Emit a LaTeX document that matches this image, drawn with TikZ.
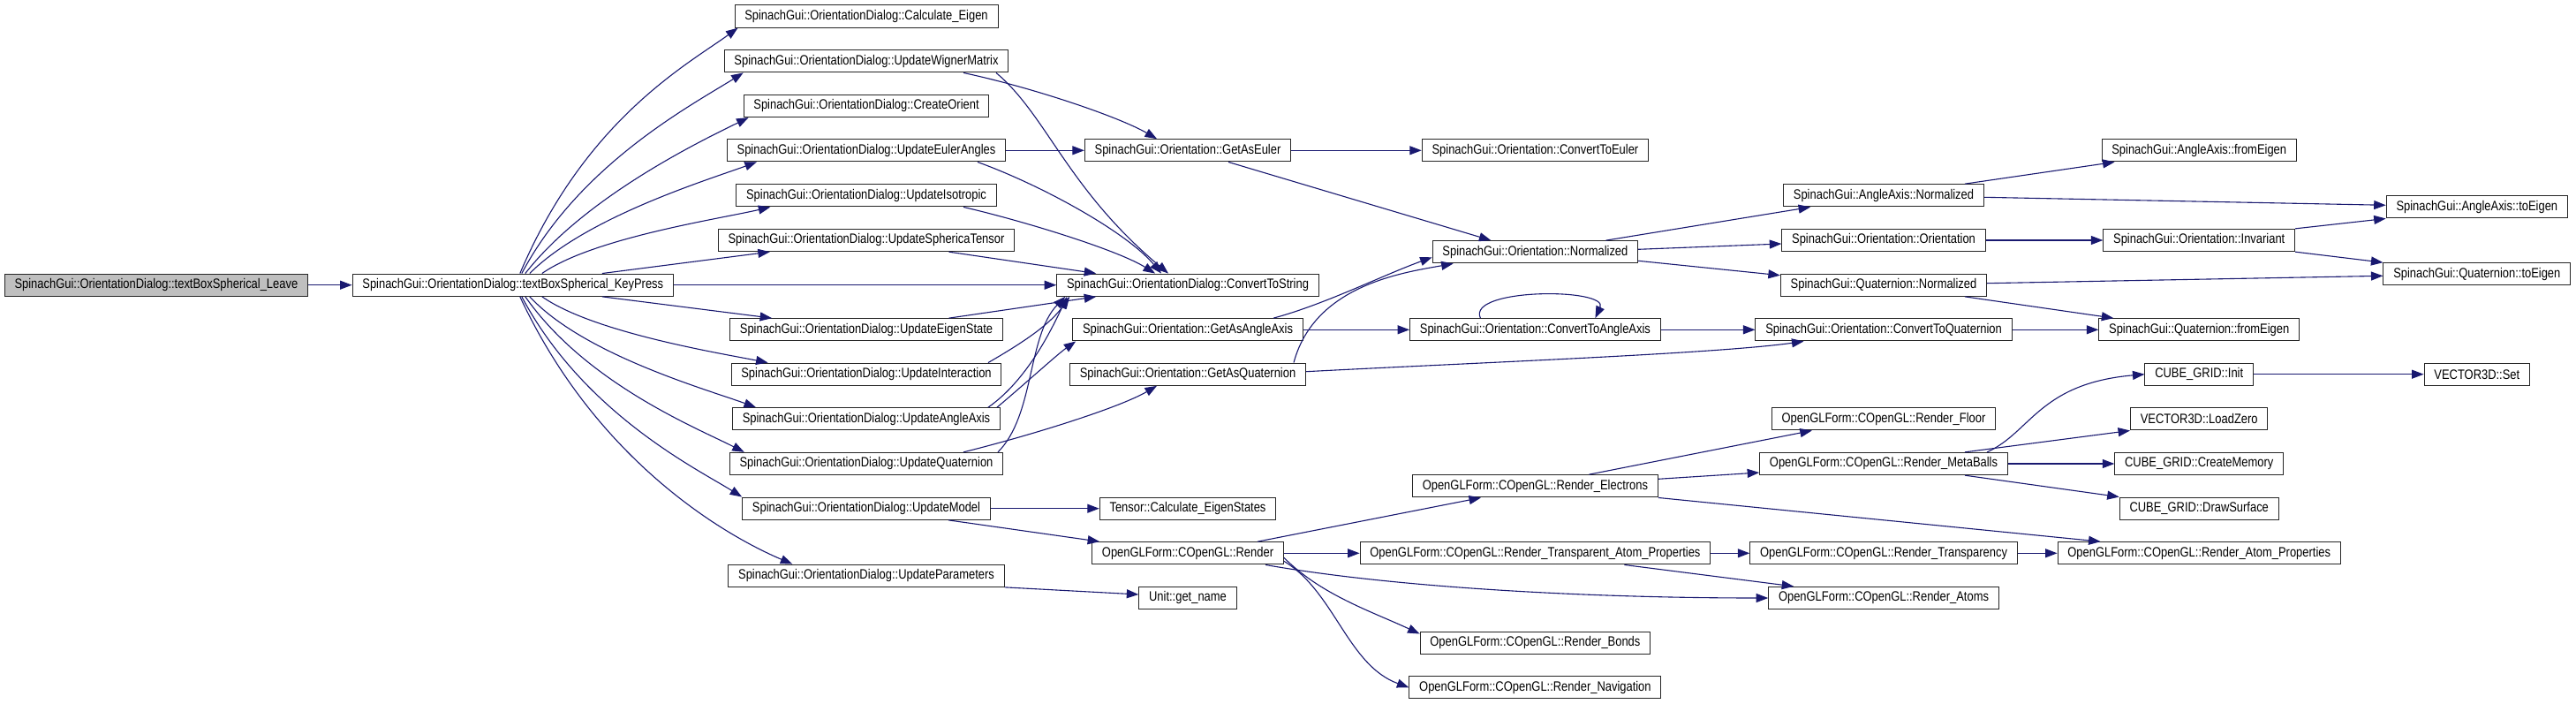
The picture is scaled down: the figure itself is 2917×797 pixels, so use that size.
\documentclass[tikz,border=0pt]{standalone}
\usepackage{fontspec}
\setmainfont[FakeStretch=0.84]{Liberation Sans}
\usepackage{tikz}
\usetikzlibrary{arrows.meta}
\definecolor{call-blue}{RGB}{25, 25, 112}
\definecolor{root-gray}{RGB}{191, 191, 191}

\begin{document}
\begin{tikzpicture}[x=1pt, y=1pt,
  func/.style={rectangle, draw=black!85, line width=1pt, fill=white,
               minimum height=25.3pt, inner xsep=11.3pt, inner ysep=0pt,
               font=\fontsize{15.4}{18}\selectfont},
  root/.style={func, fill=root-gray},
  call/.style={-{Triangle[length=13.5pt, width=10pt]}, line width=1.1pt, color=call-blue}
]
  \useasboundingbox (0,0) rectangle (2917,-797);

  \node[root] (leave)  at (176.9,-322.7)  {SpinachGui::OrientationDialog::textBoxSpherical\_Leave};
  \node[func] (kp)     at (580.8,-322.7)  {SpinachGui::OrientationDialog::textBoxSpherical\_KeyPress};

  \node[func] (calc)   at (981,-18.5)     {SpinachGui::OrientationDialog::Calculate\_Eigen};
  \node[func] (wig)    at (981,-69.3)     {SpinachGui::OrientationDialog::UpdateWignerMatrix};
  \node[func] (orient) at (981,-120)      {SpinachGui::OrientationDialog::CreateOrient};
  \node[func] (euler)  at (981,-170.3)    {SpinachGui::OrientationDialog::UpdateEulerAngles};
  \node[func] (iso)    at (981,-221.3)    {SpinachGui::OrientationDialog::UpdateIsotropic};
  \node[func] (sph)    at (981,-272)      {SpinachGui::OrientationDialog::UpdateSphericaTensor};
  \node[func] (eig)    at (981,-373.3)    {SpinachGui::OrientationDialog::UpdateEigenState};
  \node[func] (inter)  at (981,-423.7)    {SpinachGui::OrientationDialog::UpdateInteraction};
  \node[func] (aax)    at (981,-474.3)    {SpinachGui::OrientationDialog::UpdateAngleAxis};
  \node[func] (quat)   at (981,-525)      {SpinachGui::OrientationDialog::UpdateQuaternion};
  \node[func] (model)  at (981,-575.7)    {SpinachGui::OrientationDialog::UpdateModel};
  \node[func] (param)  at (981,-651.7)    {SpinachGui::OrientationDialog::UpdateParameters};

  \node[func] (str)    at (1345,-322.7)   {SpinachGui::OrientationDialog::ConvertToString};
  \node[func] (gae)    at (1345,-170.3)   {SpinachGui::Orientation::GetAsEuler};
  \node[func] (gaa)    at (1345,-373.3)   {SpinachGui::Orientation::GetAsAngleAxis};
  \node[func] (gaq)    at (1345,-423.7)   {SpinachGui::Orientation::GetAsQuaternion};
  \node[func] (tensor) at (1345,-575.7)   {Tensor::Calculate\_EigenStates};
  \node[func] (render) at (1345,-626.3)   {OpenGLForm::COpenGL::Render};
  \node[func] (unit)   at (1345,-677)     {Unit::get\_name};

  \node[func] (cte)    at (1738.4,-170.3) {SpinachGui::Orientation::ConvertToEuler};
  \node[func] (norm)   at (1738.4,-285.3) {SpinachGui::Orientation::Normalized};
  \node[func] (ctaa)   at (1738.4,-373.3) {SpinachGui::Orientation::ConvertToAngleAxis};
  \node[func] (elec)   at (1738.4,-550.3) {OpenGLForm::COpenGL::Render\_Electrons};
  \node[func] (tap)    at (1738.4,-626.3) {OpenGLForm::COpenGL::Render\_Transparent\_Atom\_Properties};
  \node[func] (bonds)  at (1738.4,-727.7) {OpenGLForm::COpenGL::Render\_Bonds};
  \node[func] (nav)    at (1738.4,-778.3) {OpenGLForm::COpenGL::Render\_Navigation};

  \node[func] (aan)    at (2133,-221.3)   {SpinachGui::AngleAxis::Normalized};
  \node[func] (ori)    at (2133,-272)     {SpinachGui::Orientation::Orientation};
  \node[func] (qn)     at (2133,-322.7)   {SpinachGui::Quaternion::Normalized};
  \node[func] (ctq)    at (2133,-373.3)   {SpinachGui::Orientation::ConvertToQuaternion};
  \node[func] (floor)  at (2133,-474.3)   {OpenGLForm::COpenGL::Render\_Floor};
  \node[func] (meta)   at (2133,-525)     {OpenGLForm::COpenGL::Render\_MetaBalls};
  \node[func] (transp) at (2133,-626.3)   {OpenGLForm::COpenGL::Render\_Transparency};
  \node[func] (atoms)  at (2133,-677)     {OpenGLForm::COpenGL::Render\_Atoms};

  \node[func] (afe)    at (2490.2,-170.3) {SpinachGui::AngleAxis::fromEigen};
  \node[func] (inv)    at (2490.2,-272)   {SpinachGui::Orientation::Invariant};
  \node[func] (qfe)    at (2490.2,-373.3) {SpinachGui::Quaternion::fromEigen};
  \node[func] (init)   at (2490.2,-423.7) {CUBE\_GRID::Init};
  \node[func] (zero)   at (2490.2,-474.3) {VECTOR3D::LoadZero};
  \node[func] (mem)    at (2490.2,-525)   {CUBE\_GRID::CreateMemory};
  \node[func] (surf)   at (2490.2,-575.7) {CUBE\_GRID::DrawSurface};
  \node[func] (atprop) at (2490.2,-626.3) {OpenGLForm::COpenGL::Render\_Atom\_Properties};

  \node[func] (ate)    at (2804.8,-234.3) {SpinachGui::AngleAxis::toEigen};
  \node[func] (qte)    at (2804.8,-310.3) {SpinachGui::Quaternion::toEigen};
  \node[func] (vset)   at (2804.8,-423.7) {VECTOR3D::Set};

  \draw[call] (leave) -- (kp);

  \draw[call] ([xshift=8pt]kp.north) .. controls +(67:190) and +(216:70) .. ([xshift=4pt]calc.south west);
  \draw[call] ([xshift=10pt]kp.north) .. controls +(62:140) and +(212:70) .. ([xshift=22pt]wig.south west);
  \draw[call] ([xshift=14pt]kp.north) .. controls +(52:110) and +(206:60) .. ([xshift=6pt]orient.south west);
  \draw[call] ([xshift=19pt]kp.north) .. controls +(45:90) and +(200:60) .. ([xshift=34pt]euler.south west);
  \draw[call] ([xshift=33pt]kp.north) .. controls +(35:70) and +(193:60) .. ([xshift=39pt]iso.south west);
  \draw[call] ([xshift=101pt]kp.north) -- ([xshift=59pt]sph.south west);
  \draw[call] (kp) -- (str);
  \draw[call] ([xshift=101pt]kp.south) -- ([xshift=48pt]eig.north west);
  \draw[call] ([xshift=33pt]kp.south) .. controls +(-35:70) and +(169:60) .. ([xshift=42pt]inter.north west);
  \draw[call] ([xshift=19pt]kp.south) .. controls +(-47:90) and +(160:60) .. ([xshift=27pt]aax.north west);
  \draw[call] ([xshift=14pt]kp.south) .. controls +(-55:120) and +(153:60) .. ([xshift=17pt]quat.north west);
  \draw[call] ([xshift=10pt]kp.south) .. controls +(-62:150) and +(148:60) .. (model.north west);
  \draw[call] ([xshift=8pt]kp.south) .. controls +(-65:200) and +(157:90) .. ([xshift=73pt]param.north west);

  \draw[call] ([xshift=110pt]wig.south) .. controls +(-12:80) and +(150:50) .. ([xshift=-35pt]gae.north);
  \draw[call] ([xshift=147pt]wig.south) .. controls +(-40:75) and +(140:150) .. ([xshift=-22pt]str.north);
  \draw[call] (euler) -- (gae);
  \draw[call] ([xshift=126pt]euler.south) .. controls +(-20:80) and +(130:60) .. ([xshift=-30pt]str.north);
  \draw[call] ([xshift=110pt]iso.south) .. controls +(-13:70) and +(148:50) .. ([xshift=-37pt]str.north);
  \draw[call] ([xshift=93.5pt]sph.south) -- ([xshift=45pt]str.north west);
  \draw[call] ([xshift=93.5pt]eig.north) -- ([xshift=45pt]str.south west);
  \draw[call] ([xshift=138pt]inter.north) .. controls +(30:40) and +(235:40) .. ([xshift=15pt]str.south west);
  \draw[call] ([xshift=138pt]aax.north) .. controls +(35:50) and +(245:50) .. ([xshift=12pt]str.south west);
  \draw[call] ([xshift=148pt]aax.north) .. controls +(40:40) and +(215:25) .. ([xshift=4pt]gaa.south west);
  \draw[call] ([xshift=149pt]quat.north) .. controls +(45:59) and +(226:62) .. ([xshift=10pt]str.south west);
  \draw[call] ([xshift=110pt]quat.north) .. controls +(14:80) and +(210:50) .. ([xshift=-35pt]gaq.south);
  \draw[call] (model) -- (tensor);
  \draw[call] ([xshift=93pt]model.south) -- ([xshift=9pt]render.north west);
  \draw[call] (param.south east) -- ([yshift=4pt]unit.west);

  \draw[call] (gae) -- (cte);
  \draw[call] ([xshift=46pt]gae.south) -- ([xshift=-50pt]norm.north);
  \draw[call] ([xshift=97pt]gaa.north) .. controls +(15:60) and +(200:60) .. ([yshift=-6pt]norm.west);
  \draw[call] ([xshift=120pt]gaq.north) .. controls +(75:90) and +(190:60) .. ([xshift=24pt]norm.south west);
  \draw[call] ([yshift=3pt]gaq.east) .. controls +(3:200) and +(188:100) .. ([xshift=55pt]ctq.south west);
  \draw[call] (gaa) -- (ctaa);
  \draw[call] ([xshift=-62pt]ctaa.north) .. controls +(115:38) and +(65:38) .. ([xshift=68pt]ctaa.north);
  \draw[call] (ctaa) -- (ctq);
  \draw[call] (ctq) -- (qfe);

  \draw[call] ([xshift=80pt]norm.north) -- ([xshift=31pt]aan.south west);
  \draw[call] ([yshift=3pt]norm.east) -- ([yshift=-4pt]ori.west);
  \draw[call] ([yshift=-10pt]norm.east) -- ([yshift=11pt]qn.west);
  \draw[call] ([xshift=92pt]aan.north) -- ([xshift=15pt]afe.south west);
  \draw[call] ([yshift=-2pt]aan.east) -- ([yshift=2pt]ate.west);
  \draw[call] (ori) -- (inv);
  \draw[call] (inv.north east) -- (ate.south west);
  \draw[call] (inv.south east) -- (qte.north west);
  \draw[call] ([yshift=2pt]qn.east) -- ([yshift=-2pt]qte.west);
  \draw[call] ([xshift=92pt]qn.south) -- ([xshift=17pt]qfe.north west);

  \draw[call] ([xshift=79pt]render.north) -- ([xshift=78pt]elec.south west);
  \draw[call] (render) -- (tap);
  \draw[call] ([xshift=88pt]render.south) .. controls +(-10:150) and +(180:200) .. (atoms.west);
  \draw[call] ([yshift=-5pt]render.east) .. controls +(-45:60) and +(155:60) .. ([yshift=-3pt]bonds.north west);
  \draw[call] ([yshift=-9pt]render.east) .. controls +(-31:67) and +(160:74) .. (nav.west);

  \draw[call] ([xshift=61pt]elec.north) -- ([xshift=46pt]floor.south west);
  \draw[call] ([yshift=8pt]elec.east) -- ([yshift=-10pt]meta.west);
  \draw[call] (elec.south east) -- ([xshift=49pt]atprop.north west);
  \draw[call] ([xshift=117pt]meta.north) .. controls +(24:54) and +(185:120) .. (init.west);
  \draw[call] ([xshift=92pt]meta.north) -- (zero.south west);
  \draw[call] (meta) -- (mem);
  \draw[call] ([xshift=92pt]meta.south) -- (surf.north west);
  \draw[call] (init) -- (vset);
  \draw[call] (tap) -- (transp);
  \draw[call] ([xshift=101pt]tap.south) -- ([xshift=29pt]atoms.north west);
  \draw[call] (transp) -- (atprop);
\end{tikzpicture}
\end{document}
